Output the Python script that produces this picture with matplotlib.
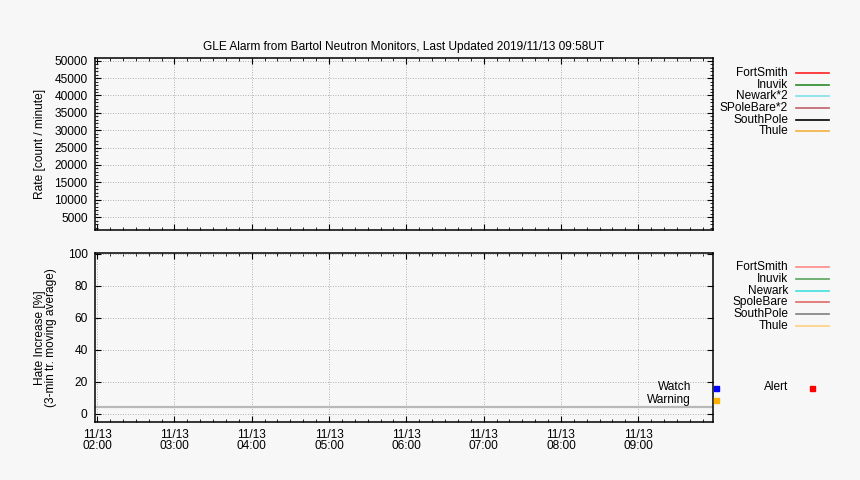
import datetime as dt
import matplotlib
matplotlib.use("Agg")
import matplotlib.pyplot as plt
import matplotlib.dates as mdates
from matplotlib.lines import Line2D

plt.rcParams['font.family'] = ['Liberation Sans', 'DejaVu Sans']
plt.rcParams['font.size'] = 8.6

# time window of the plots
t_start = dt.datetime(2019, 11, 13, 1, 58)
t_end = dt.datetime(2019, 11, 13, 9, 58)

# station series (no data in the window)
rate_names = ["FortSmith", "Inuvik", "Newark*2", "SPoleBare*2", "SouthPole", "Thule"]
rate_colors = ["#ff2020", "#2a8a2a", "#7fe0ea", "#c0606a", "#000000", "#f0b040"]
rate_times = [[], [], [], [], [], []]
rate_values = [[], [], [], [], [], []]

inc_names = ["FortSmith", "Inuvik", "Newark", "SpoleBare", "SouthPole", "Thule"]
inc_colors = ["#ff8888", "#5aa35a", "#40e0e0", "#e06a6a", "#808080", "#ffd080"]
inc_times = [[], [], [], [], [], []]
inc_values = [[], [], [], [], [], []]

# constant reference level on the increase panel
base_level = 4.0

alarm_names = ["Watch", "Warning", "Alert"]
alarm_colors = ["#0000ff", "#ffb000", "#ff0000"]

bg = "#f7f7f7"
W, H = 860, 480
fig = plt.figure(figsize=(8.6, 4.8), dpi=100, facecolor=bg)


def fx(x):
    return x / W


def fy(y):
    return 1 - y / H


ax1 = fig.add_axes([fx(94.5), fy(230.3), fx(713) - fx(94.5), fy(58.3) - fy(230.3)])
ax2 = fig.add_axes([fx(94.5), fy(421.7), fx(713) - fx(94.5), fy(253) - fy(421.7)])

for t, v, c in zip(rate_times, rate_values, rate_colors):
    ax1.plot(t, v, color=c, lw=1)
for t, v, c in zip(inc_times, inc_values, inc_colors):
    ax2.plot(t, v, color=c, lw=1)
ax2.axhline(base_level, color="#b8b8b8", lw=1.6)

for ax in (ax1, ax2):
    ax.set_facecolor(bg)
    ax.set_xlim(t_start, t_end)
    ax.xaxis.set_major_locator(mdates.HourLocator())
    ax.xaxis.set_minor_locator(mdates.MinuteLocator(byminute=range(0, 60, 10)))
    ax.xaxis.set_major_formatter(mdates.DateFormatter("%m/%d\n%H:%M"))
    ax.tick_params(which="both", direction="in", top=True, right=True, color="black")
    ax.tick_params(which="major", length=4.5, width=0.8, pad=5)
    ax.tick_params(which="minor", length=2.3, width=0.6)
    ax.grid(True, which="major", color="#999999", linestyle=(0, (1, 2)), linewidth=0.6)
    for s in ax.spines.values():
        s.set_linewidth(1.1)

ax1.set_ylim(1200, 50700)
ax1.set_yticks(range(5000, 50001, 5000))
ax1.yaxis.set_minor_locator(plt.MultipleLocator(1000))
ax1.tick_params(axis="x", labelbottom=False)
ax1.set_ylabel("Rate [count / minute]", labelpad=6)
ax1.set_title("GLE Alarm from Bartol Neutron Monitors, Last Updated 2019/11/13 09:58UT",
              fontsize=8.6, pad=6)

ax2.set_ylim(-5.1, 100.6)
ax2.set_yticks(range(0, 101, 20))
ax2.yaxis.set_minor_locator(plt.NullLocator())
ax2.set_ylabel("Hate Increase [%]\n(3-min tr. moving average)", labelpad=8, linespacing=0.85)
ax2.xaxis.set_tick_params(which="major")
for lab in ax2.get_xticklabels():
    lab.set_linespacing(0.95)

# keys, gnuplot style: right-justified text followed by a short line sample
for i, (n, c) in enumerate(zip(rate_names, rate_colors)):
    y = 72.8 + i * 11.7
    fig.text(fx(788), fy(y), n, ha="right", va="center")
    fig.add_artist(Line2D([fx(796), fx(829)], [fy(y), fy(y)], color=c, lw=1.2))
for i, (n, c) in enumerate(zip(inc_names, inc_colors)):
    y = 267.2 + i * 11.7
    fig.text(fx(788), fy(y), n, ha="right", va="center")
    fig.add_artist(Line2D([fx(796), fx(829)], [fy(y), fy(y)], color=c, lw=1.2))

alarm_pos = [(691, 716, 387.5), (691, 716, 399.5), (788, 812, 387.5)]
for n, c, (xt, xm, y) in zip(alarm_names, alarm_colors, alarm_pos):
    fig.text(fx(xt), fy(y), n, ha="right", va="center")
    fig.add_artist(Line2D([fx(xm)], [fy(y)], marker="s", markersize=3.6,
                          color=c, lw=0))

fig.savefig("out.png", dpi=100, facecolor=bg)
